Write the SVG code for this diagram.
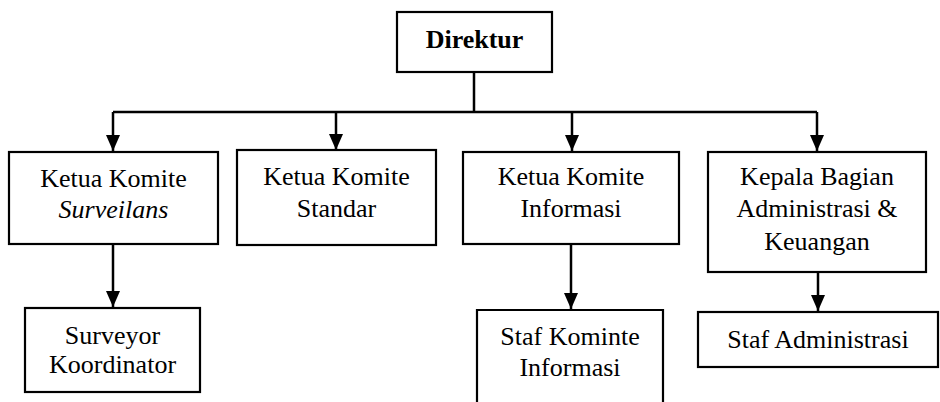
<svg xmlns="http://www.w3.org/2000/svg" width="940" height="402" viewBox="0 0 940 402">
  <style>
    .box { fill: #fff; stroke: #000; stroke-width: 2.2; }
    .lbl { font-family: "Liberation Serif", "Times New Roman", serif; font-size: 26px; fill: #000; text-anchor: middle; }
    .b { font-weight: bold; }
    .i { font-style: italic; }
    .link { fill: none; stroke: #000; stroke-width: 2.5; marker-end: url(#arrow); }
    .bus { fill: none; stroke: #000; stroke-width: 2.5; }
  </style>
  <defs>
    <marker id="arrow" viewBox="0 0 16 14" refX="16" refY="7" markerWidth="16" markerHeight="14" markerUnits="userSpaceOnUse" orient="auto">
      <path d="M0,0 L16,7 L0,14 Z" fill="#000"/>
    </marker>
  </defs>

  <rect width="940" height="402" fill="#fff"/>

  <g id="connectors">
    <path class="bus" d="M474,72 V112 M113,112 H817"/>
    <path class="link" d="M113,112 V151"/>
    <path class="link" d="M336,112 V150"/>
    <path class="link" d="M572,112 V151"/>
    <path class="link" d="M817,112 V151"/>
    <path class="link" d="M113,244 V307"/>
    <path class="link" d="M571,244 V309"/>
    <path class="link" d="M818,272 V311"/>
  </g>

  <g id="direktur">
    <rect class="box" x="397" y="12" width="155" height="60"/>
    <text class="lbl b" x="474.5" y="48">Direktur</text>
  </g>

  <g id="komite-surveilans">
    <rect class="box" x="9" y="152" width="209" height="92"/>
    <text class="lbl" x="113.5" y="187">Ketua Komite</text>
    <text class="lbl i" x="113.5" y="218">Surveilans</text>
  </g>

  <g id="komite-standar">
    <rect class="box" x="237" y="150" width="199" height="95"/>
    <text class="lbl" x="336.5" y="185">Ketua Komite</text>
    <text class="lbl" x="336.5" y="217">Standar</text>
  </g>

  <g id="komite-informasi">
    <rect class="box" x="463" y="152" width="216" height="92"/>
    <text class="lbl" x="571" y="185">Ketua Komite</text>
    <text class="lbl" x="571" y="217">Informasi</text>
  </g>

  <g id="kepala-bagian">
    <rect class="box" x="708" y="152" width="218" height="120"/>
    <text class="lbl" x="817" y="185">Kepala Bagian</text>
    <text class="lbl" x="817" y="217">Administrasi &amp;</text>
    <text class="lbl" x="817" y="250">Keuangan</text>
  </g>

  <g id="surveyor-koordinator">
    <rect class="box" x="25" y="308" width="175" height="84"/>
    <text class="lbl" x="112.5" y="344">Surveyor</text>
    <text class="lbl" x="112.5" y="373">Koordinator</text>
  </g>

  <g id="staf-komite-informasi">
    <path class="box" d="M477,405 V310 H663 V405"/>
    <text class="lbl" x="570" y="345">Staf Kominte</text>
    <text class="lbl" x="570" y="376">Informasi</text>
  </g>

  <g id="staf-administrasi">
    <rect class="box" x="698" y="312" width="240" height="55"/>
    <text class="lbl" x="818" y="348">Staf Administrasi</text>
  </g>
</svg>
